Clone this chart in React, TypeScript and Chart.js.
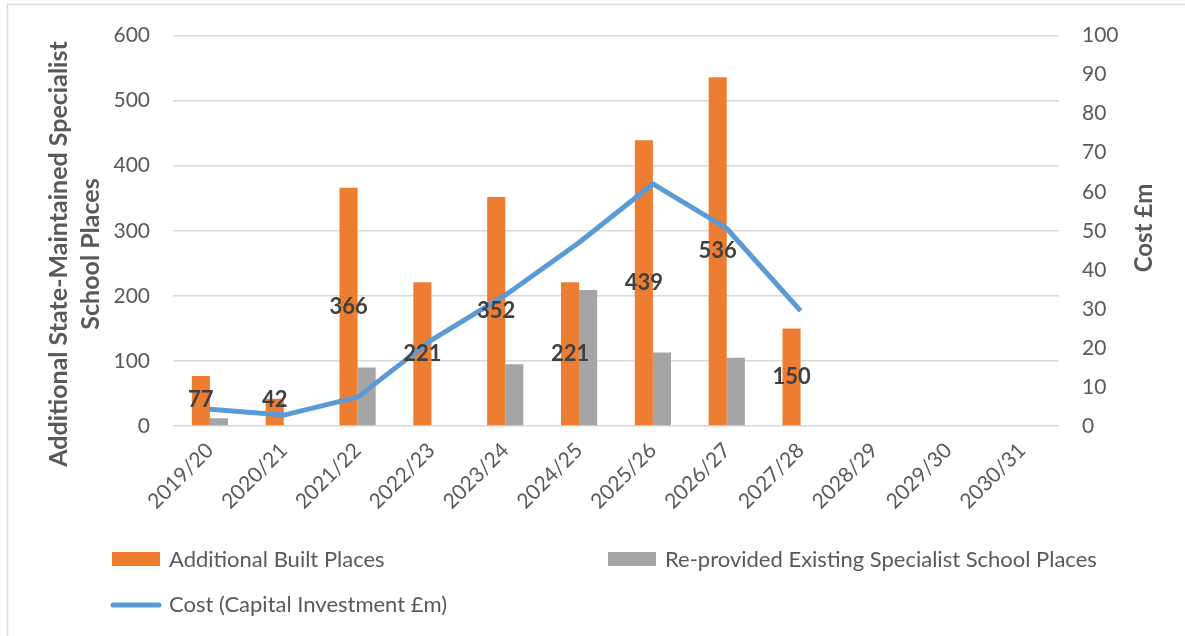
import React, { useEffect, useRef } from "react";
import { Chart, registerables } from "chart.js";

Chart.register(...registerables);

const categories = [
  "2019/20", "2020/21", "2021/22", "2022/23", "2023/24", "2024/25",
  "2025/26", "2026/27", "2027/28", "2028/29", "2029/30", "2030/31",
];
const additionalBuilt = [77, 42, 366, 221, 352, 221, 439, 536, 150, null, null, null];
const reprovided = [12, null, 90, null, 95, 209, 113, 105, null, null, null, null];
const cost = [4.3, 2.8, 7.4, 22, 33.5, 47, 62, 50.6, 29.5, null, null, null];
const leftTicks = { min: 0, max: 600, step: 100 };
const rightTicks = { min: 0, max: 100, step: 10 };

const ORANGE = "#ED7D31";
const GREY = "#A5A5A5";
const BLUE = "#5B9BD5";
const TEXT = "#595959";
const FONT = "Lato";

const decorPlugin = {
  id: "decor",
  beforeDraw(chart: any) {
    const ctx = chart.ctx;
    ctx.save();
    ctx.fillStyle = "#ffffff";
    ctx.fillRect(0, 0, chart.width, chart.height);
    ctx.strokeStyle = "#D9D9D9";
    ctx.lineWidth = 1.5;
    ctx.beginPath();
    ctx.moveTo(7.5, chart.height);
    ctx.lineTo(7.5, 4.5);
    ctx.lineTo(chart.width, 4.5);
    ctx.stroke();
    ctx.restore();
  },
  afterDatasetsDraw(chart: any) {
    const ctx = chart.ctx;
    const meta = chart.getDatasetMeta(0);
    ctx.save();
    ctx.font = `bold 22px ${FONT}`;
    ctx.fillStyle = "#404040";
    ctx.textAlign = "center";
    ctx.textBaseline = "middle";
    meta.data.forEach((el: any, i: number) => {
      const v = additionalBuilt[i];
      if (v == null) return;
      const y = Math.min((el.y + el.base) / 2, el.base - 25);
      ctx.fillText(String(v), el.x, y);
    });
    ctx.restore();
  },
  afterDraw(chart: any) {
    const ctx = chart.ctx;
    ctx.save();
    ctx.font = `bold 25px ${FONT}`;
    ctx.fillStyle = TEXT;
    ctx.textAlign = "center";
    ctx.textBaseline = "middle";
    // left axis title
    ctx.save();
    ctx.translate(59, 254);
    ctx.rotate(-Math.PI / 2);
    ctx.fillText("Additional State-Maintained Specialist", 0, 0);
    ctx.fillText("School Places", 0, 32);
    ctx.restore();
    // right axis title
    ctx.font = `bold 24px ${FONT}`;
    ctx.save();
    ctx.translate(1144, 228);
    ctx.rotate(-Math.PI / 2);
    ctx.fillText("Cost £m", 0, 0);
    ctx.restore();

    // legend
    ctx.font = `22px ${FONT}`;
    ctx.textAlign = "left";
    ctx.fillStyle = ORANGE;
    ctx.fillRect(112, 552, 48, 14);
    ctx.fillStyle = GREY;
    ctx.fillRect(608, 552, 48, 14);
    ctx.strokeStyle = BLUE;
    ctx.lineWidth = 5;
    ctx.lineCap = "round";
    ctx.beginPath();
    ctx.moveTo(113, 605);
    ctx.lineTo(159, 605);
    ctx.stroke();
    ctx.fillStyle = TEXT;
    ctx.fillText("Additional Built Places", 169, 560);
    ctx.fillText("Re-provided Existing Specialist School Places", 665, 560);
    ctx.fillText("Cost (Capital Investment £m)", 169, 605);
    ctx.restore();
  },
};

export default function App() {
  const ref = useRef<HTMLCanvasElement | null>(null);
  useEffect(() => {
    document.body.style.margin = "0";
    const canvas = ref.current!;
    const chart = new Chart(canvas, {
      type: "bar",
      data: {
        labels: categories,
        datasets: [
          {
            type: "bar",
            label: "Additional Built Places",
            data: additionalBuilt as any,
            backgroundColor: ORANGE,
            yAxisID: "y",
            order: 1,
            categoryPercentage: 0.49,
            barPercentage: 1,
          },
          {
            type: "bar",
            label: "Re-provided Existing Specialist School Places",
            data: reprovided as any,
            backgroundColor: GREY,
            yAxisID: "y",
            order: 1,
            categoryPercentage: 0.49,
            barPercentage: 1,
          },
          {
            type: "line",
            label: "Cost (Capital Investment £m)",
            data: cost as any,
            borderColor: BLUE,
            backgroundColor: BLUE,
            borderWidth: 5,
            pointRadius: 0,
            borderJoinStyle: "round",
            borderCapStyle: "butt",
            tension: 0,
            yAxisID: "y1",
            order: 0,
          } as any,
        ],
      },
      options: {
        responsive: false,
        animation: false,
        devicePixelRatio: 1,
        layout: { padding: { top: 33, bottom: 0, left: 0, right: 0 } },
        plugins: {
          legend: { display: false },
          tooltip: { enabled: false },
        },
        scales: {
          x: {
            grid: { display: false, drawTicks: false },
            border: { display: false },
            ticks: {
              color: TEXT,
              font: { family: FONT, size: 21 },
              minRotation: 45,
              maxRotation: 45,
              autoSkip: false,
              padding: 12,
            },
            afterFit(scale: any) {
              scale.height = 210;
            },
          },
          y: {
            position: "left",
            min: leftTicks.min,
            max: leftTicks.max,
            ticks: {
              stepSize: leftTicks.step,
              color: TEXT,
              font: { family: FONT, size: 21 },
              padding: 23,
            },
            grid: { color: "#D9D9D9", lineWidth: 1.5, drawTicks: false },
            border: { display: false },
            afterFit(scale: any) {
              scale.width = 173;
            },
          },
          y1: {
            position: "right",
            min: rightTicks.min,
            max: rightTicks.max,
            ticks: {
              stepSize: rightTicks.step,
              color: TEXT,
              font: { family: FONT, size: 21 },
              padding: 23,
            },
            grid: { display: false, drawTicks: false },
            border: { display: false },
            afterFit(scale: any) {
              scale.width = 126;
            },
          },
        },
      } as any,
      plugins: [decorPlugin],
    });
    return () => chart.destroy();
  }, []);
  return <canvas ref={ref} width={1185} height={636} style={{ display: "block" }} />;
}
